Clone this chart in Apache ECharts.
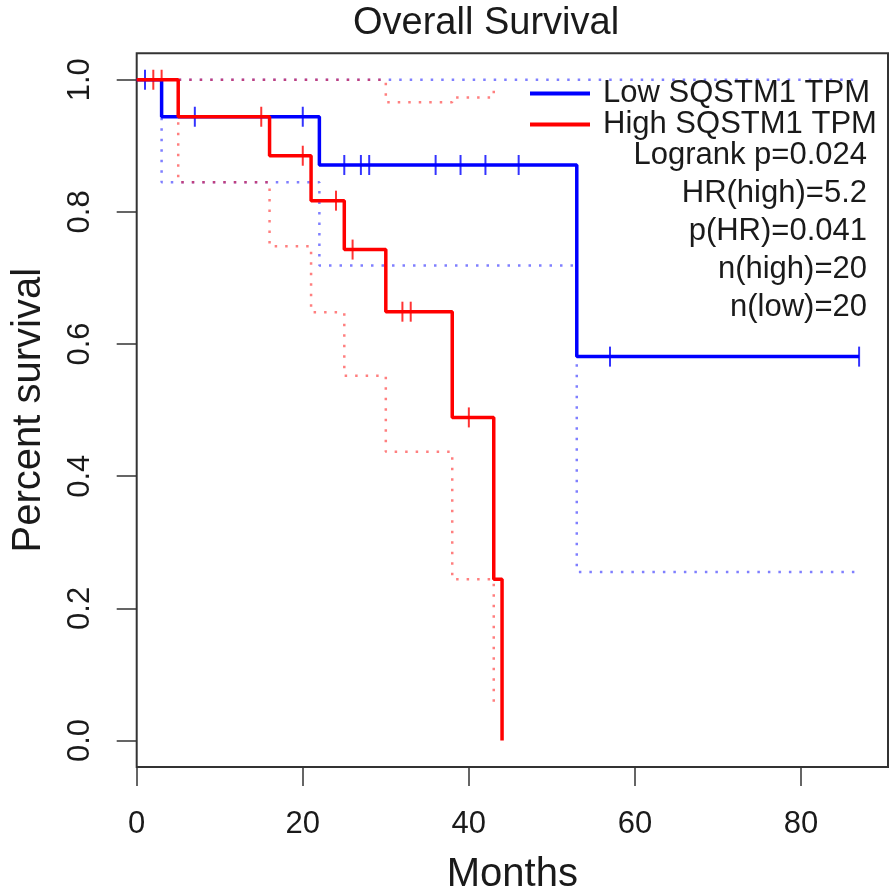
<!DOCTYPE html>
<html lang="en">
<head>
    <meta charset="UTF-8">
    <title>index</title>
    <script src="https://cdn.jsdelivr.net/npm/echarts@6/dist/echarts.min.js"></script>
    <style>
        html, body { margin: 0; padding: 0; background: #fff; }
        #main { width: 893px; height: 895px; }
    </style>
</head>
<body>
<div id="main"></div>
<script>
    // survival curves (months, survival)
    var lowTimes = [0, 3, 22, 53, 87];
    var lowSurv = [1, 0.944, 0.871, 0.581, 0.581];
    var lowLowerTimes = [0, 3, 22, 53, 87];
    var lowLower = [1, 0.845, 0.719, 0.255, 0.255];
    var lowUpperTimes = [0, 87];
    var lowUpper = [1, 1];

    var highTimes = [0, 5, 16, 21, 25, 30, 38, 43, 44];
    var highSurv = [1, 0.944, 0.885, 0.817, 0.743, 0.649, 0.489, 0.244, 0];
    var highLowerTimes = [0, 5, 16, 21, 25, 30, 38, 43];
    var highLower = [1, 0.845, 0.748, 0.648, 0.552, 0.437, 0.244, 0.057];
    var highUpperTimes = [0, 30, 38, 43];
    var highUpper = [1, 0.966, 0.973, 0.993];

    // censored observations
    var lowCensorTimes = [1, 7, 20, 25, 27, 28, 36, 39, 42, 46, 57, 87];
    var lowCensorSurv = [1, 0.944, 0.944, 0.871, 0.871, 0.871, 0.871, 0.871, 0.871, 0.871, 0.581, 0.581];
    var highCensorTimes = [2, 3, 15, 20, 24, 26, 32, 33, 40];
    var highCensorSurv = [1, 1, 0.944, 0.885, 0.817, 0.743, 0.649, 0.649, 0.489];

    var xTicks = [0, 20, 40, 60, 80];
    var yTicks = [0, 0.2, 0.4, 0.6, 0.8, 1.0];
    var seriesNames = ['Low SQSTM1 TPM', 'High SQSTM1 TPM'];
    var statLines = ['Logrank p=0.024', 'HR(high)=5.2', 'p(HR)=0.041', 'n(high)=20', 'n(low)=20'];

    function pairs(xs, ys) {
        return xs.map(function (x, i) { return [x, ys[i]]; });
    }

    var FONT = '"Liberation Sans", Arial, sans-serif';
    var BLUE = '#0000ff', RED = '#ff0000';

    function ciSeries(data, color) {
        return {
            type: 'line', step: 'end', data: data, symbol: 'none', silent: true,
            lineStyle: { color: color, width: 2.5, type: [2.5, 8] }
        };
    }
    function censorSeries(data, color) {
        return {
            type: 'scatter', data: data, symbol: 'rect', symbolSize: [2, 20],
            itemStyle: { color: color }, silent: true
        };
    }

    var my_Chart = echarts.init(document.getElementById('main'));

    var statGraphics = statLines.map(function (t, i) {
        return {
            type: 'text', right: 893 - 867, top: 140 + i * 38,
            style: { text: t, font: '31px ' + FONT, fill: '#1a1a1a', textAlign: 'right' }
        };
    });

    var option = {
        animation: false,
        backgroundColor: '#fff',
        title: {
            text: 'Overall Survival',
            left: 348, top: 0,
            textStyle: { fontFamily: FONT, fontSize: 38, fontWeight: 'normal', color: '#1a1a1a' }
        },
        legend: {
            orient: 'vertical', left: 525, top: 73, itemGap: 0,
            itemWidth: 60, itemHeight: 4, icon: 'rect',
            data: seriesNames,
            textStyle: { fontFamily: FONT, fontSize: 31, color: '#1a1a1a', lineHeight: 30, padding: [0, 0, 0, 8] }
        },
        grid: {
            left: 136.7, right: 5, top: 53.3, bottom: 128,
            show: true, borderColor: '#333', borderWidth: 2,
            outerBoundsMode: 'none'
        },
        xAxis: {
            type: 'value', min: 0, max: 90.48,
            name: 'Months', nameLocation: 'middle', nameGap: 88,
            nameTextStyle: { fontFamily: FONT, fontSize: 40, color: '#1a1a1a' },
            axisLine: { show: false, onZero: false },
            splitLine: { show: false },
            axisTick: { show: true, inside: false, length: 19, customValues: xTicks, lineStyle: { color: '#333', width: 1.5 } },
            axisLabel: { customValues: xTicks, margin: 42, fontFamily: FONT, fontSize: 31, color: '#1a1a1a' }
        },
        yAxis: {
            type: 'value', min: -0.04, max: 1.04,
            name: 'Percent survival', nameLocation: 'middle', nameGap: 88,
            nameTextStyle: { fontFamily: FONT, fontSize: 40, color: '#1a1a1a' },
            axisLine: { show: false, onZero: false },
            splitLine: { show: false },
            axisTick: { show: true, inside: false, length: 20, customValues: yTicks, lineStyle: { color: '#333', width: 1.5 } },
            axisLabel: {
                customValues: yTicks, rotate: 90, margin: 41, fontFamily: FONT, fontSize: 31, color: '#1a1a1a',
                formatter: function (v) { return v.toFixed(1); }
            }
        },
        graphic: statGraphics,
        series: [
            ciSeries(pairs(lowUpperTimes, lowUpper), 'rgba(0,0,255,0.5)'),
            ciSeries(pairs(lowLowerTimes, lowLower), 'rgba(0,0,255,0.5)'),
            ciSeries(pairs(highUpperTimes, highUpper), 'rgba(255,0,0,0.5)'),
            ciSeries(pairs(highLowerTimes, highLower), 'rgba(255,0,0,0.5)'),
            {
                name: seriesNames[0], type: 'line', step: 'end', symbol: 'none',
                data: pairs(lowTimes, lowSurv),
                itemStyle: { color: BLUE },
                lineStyle: { color: BLUE, width: 3.5 }
            },
            {
                name: seriesNames[1], type: 'line', step: 'end', symbol: 'none',
                data: pairs(highTimes, highSurv),
                itemStyle: { color: RED },
                lineStyle: { color: RED, width: 3.5 }
            },
            censorSeries(pairs(lowCensorTimes, lowCensorSurv), BLUE),
            censorSeries(pairs(highCensorTimes, highCensorSurv), RED)
        ]
    };
    my_Chart.setOption(option);
</script>
</body>
</html>
